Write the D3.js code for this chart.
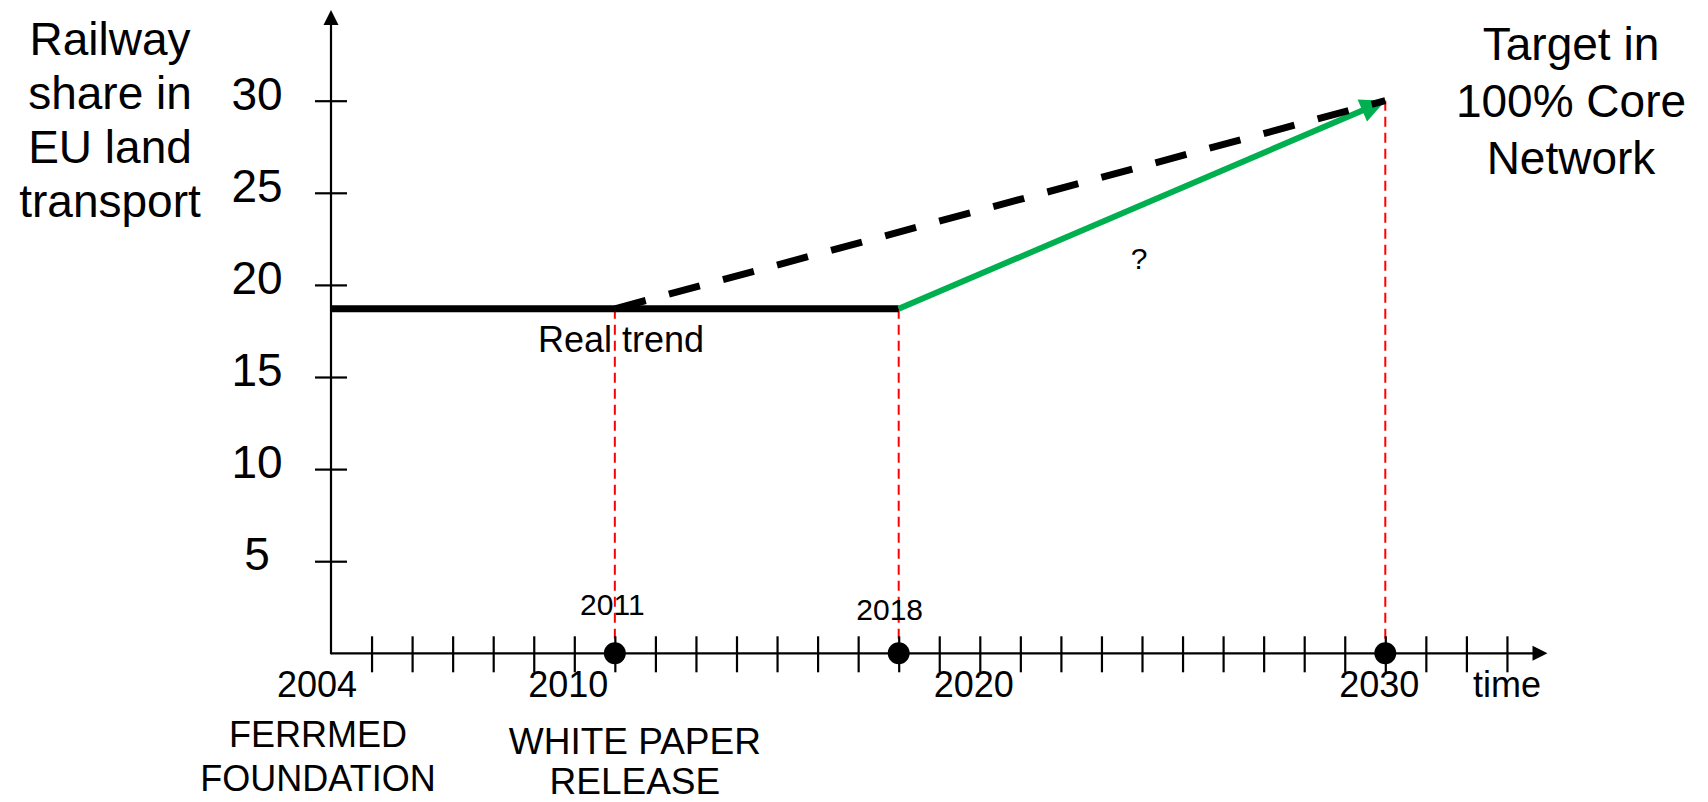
<!DOCTYPE html>
<html>
<head>
<meta charset="utf-8">
<script src="https://cdn.jsdelivr.net/npm/d3@7"></script>
<style>
  html, body { margin: 0; padding: 0; background: #fff; }
  svg { display: block; }
  text { font-family: "Liberation Sans", Arial, sans-serif; fill: #000; }
</style>
</head>
<body>
<svg id="chart" width="1708" height="802"></svg>
<script>
// ---------------- data ----------------
const yTickValues = [5, 10, 15, 20, 25, 30];
const xTickYears = [2005, 2006, 2007, 2008, 2009, 2010, 2011, 2012, 2013, 2014, 2015, 2016, 2017, 2018, 2019,
                    2020, 2021, 2022, 2023, 2024, 2025, 2026, 2027, 2028, 2029, 2030, 2031, 2032, 2033];
const xLabelYears = ["2004", "2010", "2020", "2030"];
const realTrend = [{ year: 2004, share: 18.7 }, { year: 2018, share: 18.7 }];
const whitePaperTrend = [{ year: 2011, share: 18.7 }, { year: 2030, share: 30 }];
const requiredTrend = [{ year: 2018, share: 18.7 }, { year: 2030, share: 30 }];
const milestoneYears = [2011, 2018, 2030];
const milestoneShares = [18.7, 18.7, 30];
const milestoneLabels = ["2011", "2018", ""];
const eventYears = [2004, 2011];
const eventLabels = [["FERRMED", "FOUNDATION"], ["WHITE PAPER", "RELEASE"]];
const yTitle = ["Railway", "share in", "EU land", "transport"];
const targetLabel = ["Target in", "100% Core", "Network"];
const realTrendLabel = "Real trend";
const questionLabel = "?";
const timeLabel = "time";

// ---------------- scales ----------------
const svg = d3.select("#chart");
const x = d3.scaleLinear().domain([2004, 2034]).range([331, 1547.5]);
const y = d3.scaleLinear().domain([0, 30]).range([653.3, 100.7]);
const GREEN = "#00B050", RED = "#FF0000";

// ---------------- red dashed guides ----------------
svg.append("g").selectAll("line")
  .data(milestoneYears)
  .join("line")
  .attr("x1", d => x(d)).attr("x2", d => x(d))
  .attr("y1", (d, i) => y(milestoneShares[i])).attr("y2", y(0))
  .attr("stroke", RED).attr("stroke-width", 2).attr("stroke-dasharray", "10,6");

const line = d3.line().x(d => x(d.year)).y(d => y(d.share));

// ---------------- real trend ----------------
svg.append("path").datum(realTrend)
  .attr("d", line).attr("fill", "none")
  .attr("stroke", "#000").attr("stroke-width", 7);

// ---------------- green required trend with arrowhead ----------------
(function () {
  const p0 = [x(requiredTrend[0].year), y(requiredTrend[0].share)];
  const p1 = [x(requiredTrend[1].year), y(requiredTrend[1].share)];
  const dx = p1[0] - p0[0], dy = p1[1] - p0[1];
  const L = Math.hypot(dx, dy), ux = dx / L, uy = dy / L;
  const headLen = 25, headHalf = 12;
  const base = [p1[0] - ux * headLen, p1[1] - uy * headLen];
  svg.append("line")
    .attr("x1", p0[0]).attr("y1", p0[1])
    .attr("x2", base[0] + ux * 2).attr("y2", base[1] + uy * 2)
    .attr("stroke", GREEN).attr("stroke-width", 6);
  svg.append("path")
    .attr("d", `M${p1[0]},${p1[1]} L${base[0] - uy * headHalf},${base[1] + ux * headHalf} L${base[0] + uy * headHalf},${base[1] - ux * headHalf} Z`)
    .attr("fill", GREEN);
})();

// ---------------- black dashed (white paper target) ----------------
svg.append("path").datum(whitePaperTrend)
  .attr("d", line).attr("fill", "none")
  .attr("stroke", "#000").attr("stroke-width", 7)
  .attr("stroke-dasharray", "32,24");

// ---------------- axes ----------------
const xAxis = d3.axisBottom(x).tickValues(xTickYears).tickSize(19).tickFormat("");
const gx = svg.append("g").attr("transform", `translate(0,${y(0)})`).call(xAxis);
gx.select(".domain").remove();
gx.selectAll(".tick line").attr("y1", -17).attr("y2", 19).attr("stroke", "#000").attr("stroke-width", 2.2);

const yAxis = d3.axisLeft(y).tickValues(yTickValues).tickSize(16).tickFormat("");
const gy = svg.append("g").attr("transform", `translate(${x(2004)},0)`).call(yAxis);
gy.select(".domain").remove();
gy.selectAll(".tick line").attr("x1", -16).attr("x2", 16).attr("stroke", "#000").attr("stroke-width", 2.2);

// axis lines with arrows
svg.append("line").attr("x1", x(2004)).attr("x2", x(2034) - 10)
  .attr("y1", y(0)).attr("y2", y(0)).attr("stroke", "#000").attr("stroke-width", 2.2);
svg.append("path")
  .attr("d", `M${x(2034)},${y(0)} L${x(2034) - 15},${y(0) - 7.5} L${x(2034) - 15},${y(0) + 7.5} Z`)
  .attr("fill", "#000");
svg.append("line").attr("x1", x(2004)).attr("x2", x(2004))
  .attr("y1", y(0) + 1).attr("y2", 18).attr("stroke", "#000").attr("stroke-width", 2.2);
svg.append("path")
  .attr("d", `M${x(2004)},10 L${x(2004) - 7.5},25 L${x(2004) + 7.5},25 Z`)
  .attr("fill", "#000");

// y tick labels
svg.append("g").selectAll("text")
  .data(yTickValues)
  .join("text")
  .attr("x", 257).attr("y", d => y(d) + 9)
  .attr("text-anchor", "middle").attr("font-size", 46)
  .text(d => d);

// x year labels
svg.append("g").selectAll("text")
  .data(xLabelYears)
  .join("text")
  .attr("x", (d, i) => x(+d) - (i === 0 ? 14 : 6)).attr("y", 697)
  .attr("text-anchor", "middle").attr("font-size", 36)
  .text(d => d);

// milestone dots
svg.append("g").selectAll("circle")
  .data(milestoneYears)
  .join("circle")
  .attr("cx", d => x(d)).attr("cy", y(0)).attr("r", 11).attr("fill", "#000");

// milestone labels
const msDx = [-2.5, -9], msBase = [615, 620];
svg.append("g").selectAll("text")
  .data(milestoneLabels.filter(d => d))
  .join("text")
  .attr("x", (d, i) => x(milestoneYears[i]) + msDx[i]).attr("y", (d, i) => msBase[i])
  .attr("text-anchor", "middle").attr("font-size", 30)
  .text(d => d);

// event labels
const evDx = [-13, 20], evBase = [[747, 791], [754, 794]], evSize = [36, 37];
eventLabels.forEach((lines, i) => {
  svg.append("g").selectAll("text")
    .data(lines)
    .join("text")
    .attr("x", x(eventYears[i]) + evDx[i]).attr("y", (d, j) => evBase[i][j])
    .attr("text-anchor", "middle").attr("font-size", evSize[i])
    .text(d => d);
});

// time label
svg.append("text").attr("x", 1507).attr("y", 697)
  .attr("text-anchor", "middle").attr("font-size", 36).text(timeLabel);

// y-axis title
svg.append("g").selectAll("text")
  .data(yTitle)
  .join("text")
  .attr("x", 110).attr("y", (d, i) => 55 + i * 54)
  .attr("text-anchor", "middle").attr("font-size", 46)
  .text(d => d);

// target label
svg.append("g").selectAll("text")
  .data(targetLabel)
  .join("text")
  .attr("x", 1571).attr("y", (d, i) => 60 + i * 57)
  .attr("text-anchor", "middle").attr("font-size", 46)
  .text(d => d);

// real trend label
svg.append("text").attr("x", 538).attr("y", 352)
  .attr("font-size", 36).text(realTrendLabel);

// question mark
svg.append("text").attr("x", 1139).attr("y", 269)
  .attr("text-anchor", "middle").attr("font-size", 30).text(questionLabel);
</script>
</body>
</html>
